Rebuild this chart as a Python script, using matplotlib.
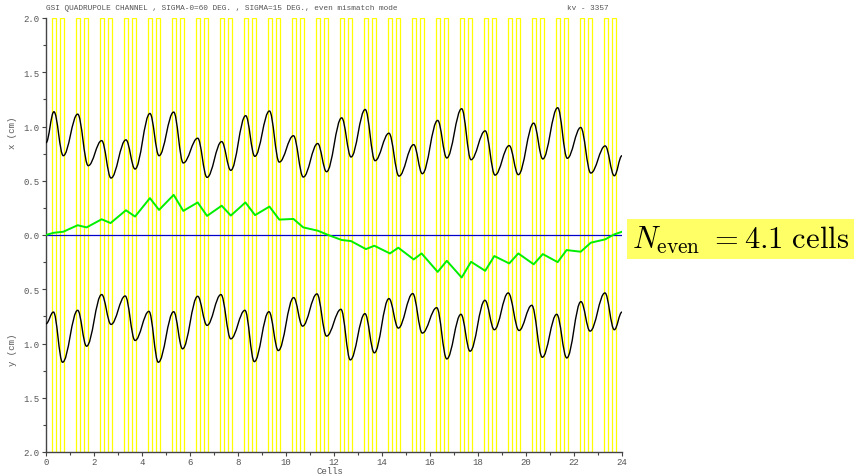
import matplotlib
matplotlib.use("Agg")
import matplotlib.pyplot as plt
import numpy as np
from matplotlib.path import Path
from matplotlib.patches import PathPatch, Rectangle
import matplotlib.transforms as mtransforms

# === lattice: two quadrupoles per cell (start offset inside cell, length) ===
n_cells = 24
quad_start = [0.24, 0.58]
quad_len = 0.17

# === x envelope (cm): extrema ===
x_env_s = [0, 0.33, 0.72, 1.32, 1.76, 2.32, 2.71, 3.33, 3.71, 4.33, 4.71, 5.32, 5.72,
           6.32, 6.71, 7.32, 7.70, 8.32, 8.70, 9.31, 9.72, 10.31, 10.72, 11.32, 11.69,
           12.32, 12.71, 13.30, 13.71, 14.29, 14.71, 15.32, 15.68, 16.32, 16.70, 17.32,
           17.71, 18.30, 18.71, 19.30, 19.68, 20.32, 20.70, 21.32, 21.72, 22.28, 22.70,
           23.30, 23.68, 24.0]
x_env = [0.85, 1.136, 0.731, 1.114, 0.639, 0.870, 0.525, 0.877, 0.608, 1.12, 0.731,
         1.133, 0.664, 0.892, 0.531, 0.861, 0.596, 1.10, 0.725, 1.143, 0.672, 0.915,
         0.534, 0.843, 0.583, 1.08, 0.719, 1.157, 0.685, 0.938, 0.543, 0.833, 0.565,
         1.056, 0.710, 1.164, 0.694, 0.960, 0.552, 0.824, 0.556, 1.031, 0.701, 1.173,
         0.707, 0.991, 0.571, 0.821, 0.546, 0.731]

# === y envelope (cm, drawn below zero) ===
y_env_s = [0, 0.31, 0.69, 1.32, 1.69, 2.32, 2.71, 3.30, 3.71, 4.29, 4.68, 5.32, 5.69,
           6.32, 6.71, 7.29, 7.70, 8.29, 8.68, 9.29, 9.68, 10.32, 10.69, 11.29, 11.69,
           12.29, 12.68, 13.29, 13.68, 14.29, 14.68, 15.28, 15.68, 16.28, 16.70, 17.29,
           17.67, 18.29, 18.68, 19.26, 19.71, 20.24, 20.68, 21.28, 21.70, 22.29, 22.67,
           23.29, 23.68, 24.0]
y_env = [-0.818, -0.710, -1.173, -0.694, -1.025, -0.549, -0.824, -0.562, -0.972, -0.704,
         -1.173, -0.707, -1.049, -0.565, -0.833, -0.549, -0.957, -0.694, -1.167, -0.707,
         -1.065, -0.577, -0.840, -0.543, -0.932, -0.685, -1.151, -0.725, -1.086, -0.586,
         -0.858, -0.540, -0.904, -0.670, -1.142, -0.731, -1.071, -0.602, -0.873, -0.534,
         -0.880, -0.648, -1.127, -0.731, -1.133, -0.614, -0.886, -0.534, -0.873, -0.710]

# === beam centroid (green) ===
cen_s = [0, 0.31, 0.72, 1.32, 1.69, 2.32, 2.69, 3.33, 3.71, 4.33, 4.71, 5.32, 5.72,
         6.32, 6.71, 7.32, 7.70, 8.31, 8.71, 9.31, 9.72, 10.31, 10.72, 11.32, 11.76,
         12.32, 12.71, 13.33, 13.68, 14.33, 14.68, 15.32, 15.65, 16.32, 16.70, 17.32,
         17.71, 18.30, 18.68, 19.30, 19.68, 20.32, 20.70, 21.32, 21.69, 22.28, 22.70,
         23.30, 23.68, 24.0]
cen = [0, 0.02, 0.03, 0.09, 0.07, 0.145, 0.11, 0.228, 0.17, 0.34, 0.231, 0.37, 0.222,
       0.30, 0.176, 0.27, 0.179, 0.30, 0.183, 0.262, 0.142, 0.148, 0.07, 0.04, 0.0,
       -0.046, -0.056, -0.13, -0.099, -0.17, -0.117, -0.225, -0.17, -0.34, -0.238,
       -0.392, -0.247, -0.33, -0.194, -0.262, -0.17, -0.27, -0.176, -0.25, -0.139,
       -0.154, -0.071, -0.04, 0.006, 0.03]

y_ticks = [-2.0, -1.5, -1.0, -0.5, 0.0, 0.5, 1.0, 1.5, 2.0]
y_ticklabels = ["2.0", "1.5", "1.0", "0.5", "0.0", "0.5", "1.0", "1.5", "2.0"]
x_ticks = list(range(0, 25, 2))

title = "GSI QUADRUPOLE CHANNEL , SIGMA-0=60 DEG. , SIGMA=15 DEG., even mismatch mode"
run_id = "kv - 3357"
note = r"$N_{\rm even}\ = 4.1\ {\rm cells}$"

mono = "Liberation Mono"
grey = "#555555"
plt.rcParams["mathtext.fontset"] = "cm"


def smooth_path(xs, ys, k=0.38):
    """Bezier path through the extrema, flat tangent at each point"""
    verts = [(xs[0], ys[0])]
    codes = [Path.MOVETO]
    for i in range(len(xs) - 1):
        dx = xs[i + 1] - xs[i]
        verts += [(xs[i] + k * dx, ys[i]), (xs[i + 1] - k * dx, ys[i + 1]), (xs[i + 1], ys[i + 1])]
        codes += [Path.CURVE4] * 3
    return Path(verts, codes)


fig = plt.figure(figsize=(8.55, 4.77), dpi=100)
ax = fig.add_axes([46 / 855, 24 / 477, 576 / 855, 434 / 477])

# quadrupoles
for c in range(n_cells):
    for q in quad_start:
        ax.add_patch(Rectangle((c + q, -2.0), quad_len, 4.0, fill=False,
                               edgecolor="#ffff00", lw=0.9, zorder=1))

ax.axhline(0, color="#0000cc", lw=0.9, zorder=2)

ax.add_patch(PathPatch(smooth_path(x_env_s, x_env), fill=False, edgecolor="black", lw=1.0, zorder=3))
ax.add_patch(PathPatch(smooth_path(y_env_s, y_env), fill=False, edgecolor="black", lw=1.0, zorder=3))
ax.plot(cen_s, cen, color="#00ee00", lw=1.4, zorder=4)

ax.set_xlim(0, 24)
ax.set_ylim(-2, 2)
ax.set_xticks(x_ticks)
ax.set_xticks(range(0, 25), minor=True)
ax.set_yticks(y_ticks)
ax.set_yticklabels(y_ticklabels)
ax.set_yticks(np.arange(-2, 2.01, 0.25), minor=True)
ax.tick_params(which="both", direction="out", colors="#444444", labelcolor=grey, labelsize=6.5)
ax.tick_params(which="major", length=3, width=0.8)
ax.tick_params(which="minor", length=2.5, width=0.8)
ax.tick_params(axis="x", pad=0.5)
ax.tick_params(axis="y", pad=1.5)
for lab in ax.get_xticklabels() + ax.get_yticklabels():
    lab.set_family(mono)

for side in ["top", "right"]:
    ax.spines[side].set_visible(False)
for side in ["left", "bottom"]:
    ax.spines[side].set_color("#444444")
    ax.spines[side].set_linewidth(1.0)

trans = mtransforms.blended_transform_factory(ax.transAxes, ax.transData)
ax.text(-0.058, 0.95, "x (cm)", transform=trans, rotation=90, ha="center", va="center",
        family=mono, fontsize=6.5, color=grey)
ax.text(-0.058, -1.05, "y (cm)", transform=trans, rotation=90, ha="center", va="center",
        family=mono, fontsize=6.5, color=grey)
fig.text(330 / 855, 1 - 471.5 / 477, "Cells", family=mono, fontsize=6.5, color=grey,
         ha="center", va="center")

fig.text(46 / 855, 1 - 8 / 477, title, family=mono, fontsize=5.6, color=grey, va="center")
fig.text(609 / 855, 1 - 8 / 477, run_id, family=mono, fontsize=5.6, color=grey,
         va="center", ha="right")

fig.text(632 / 855, 1 - 240 / 477, note, fontsize=22, va="center", ha="left",
         bbox=dict(boxstyle="square,pad=0.15", facecolor="#ffff66", edgecolor="none"))

plt.savefig("out.png", dpi=100)
